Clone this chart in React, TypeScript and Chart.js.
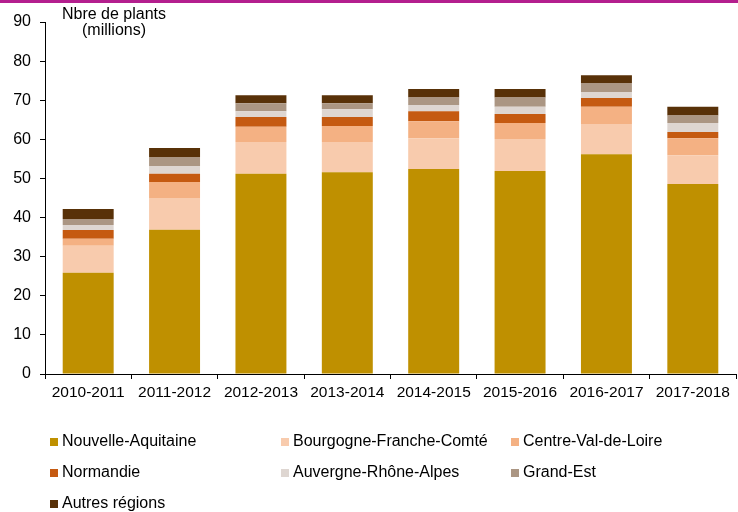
import React, { useEffect, useRef } from "react";
import { Chart, registerables } from "chart.js";

Chart.register(...registerables);

const campaigns = ["2010-2011", "2011-2012", "2012-2013", "2013-2014", "2014-2015", "2015-2016", "2016-2017", "2017-2018"];
const nouvelleAquitaine = [25.9, 36.9, 51.2, 51.6, 52.4, 51.9, 56.2, 48.6];
const bourgogneFC = [6.9, 8.1, 8.1, 7.7, 7.9, 8.2, 7.7, 7.3];
const centreVdL = [1.8, 4.1, 3.9, 4.1, 4.3, 4.1, 4.4, 4.4];
const normandie = [2.2, 2.1, 2.5, 2.3, 2.6, 2.3, 2.3, 1.6];
const auvergneRA = [1.3, 2.0, 1.5, 2.0, 1.6, 1.8, 1.5, 2.3];
const grandEst = [1.5, 2.3, 2.0, 1.5, 1.9, 2.4, 2.3, 1.9];
const autres = [2.6, 2.3, 2.1, 2.1, 2.2, 2.2, 2.0, 2.2];
const seriesNames = ["Nouvelle-Aquitaine", "Bourgogne-Franche-Comté", "Centre-Val-de-Loire", "Normandie", "Auvergne-Rhône-Alpes", "Grand-Est", "Autres régions"];
const seriesColors = ["#BF9000", "#F8CBAD", "#F4B183", "#C55A11", "#DED6D1", "#AB9683", "#583108"];
const yTitle = ["Nbre de plants", "(millions)"];

const FONT = "'Liberation Sans', Arial, sans-serif";

export default function App() {
  const ref = useRef<HTMLCanvasElement | null>(null);
  useEffect(() => {
    if (!ref.current) return;
    const values = [nouvelleAquitaine, bourgogneFC, centreVdL, normandie, auvergneRA, grandEst, autres];
    const extras = {
      id: "extras",
      afterDraw(chart: any) {
        const ctx = chart.ctx;
        ctx.save();
        ctx.fillStyle = "#000";
        ctx.font = `16px ${FONT}`;
        ctx.textAlign = "center";
        ctx.textBaseline = "middle";
        ctx.fillText(yTitle[0], 114, 15);
        ctx.fillText(yTitle[1], 114, 31);
        const cols = [50, 281, 511];
        const rows = [442, 473, 504];
        ctx.textAlign = "left";
        seriesNames.forEach((name, i) => {
          const x = cols[i % 3];
          const y = rows[Math.floor(i / 3)];
          ctx.fillStyle = seriesColors[i];
          ctx.fillRect(x, y - 4, 8, 8);
          ctx.fillStyle = "#000";
          ctx.fillText(name, x + 12, y);
        });
        ctx.restore();
      },
    };
    const chart = new Chart(ref.current, {
      type: "bar",
      data: {
        labels: campaigns,
        datasets: values.map((v, i) => ({
          label: seriesNames[i],
          data: v,
          backgroundColor: seriesColors[i],
          borderWidth: 0,
          barPercentage: 0.59,
          categoryPercentage: 1,
        })),
      },
      options: {
        animation: false,
        responsive: false,
        maintainAspectRatio: false,
        layout: { padding: { top: 22, right: 2, bottom: 98, left: 0 } },
        plugins: { legend: { display: false }, tooltip: { enabled: false } },
        scales: {
          x: {
            stacked: true,
            grid: { display: true, drawOnChartArea: false, drawTicks: true, tickLength: 5, color: "#000", offset: true },
            border: { display: true, color: "#000", width: 1 },
            ticks: { color: "#000", font: { size: 15.5, family: FONT }, padding: 4, maxRotation: 0 },
            afterFit: (s: any) => { s.height = 40; },
          },
          y: {
            stacked: true,
            min: 0,
            max: 90,
            grid: { display: true, drawOnChartArea: false, drawTicks: true, tickLength: 5, color: "#000" },
            border: { display: true, color: "#000", width: 1 },
            ticks: { stepSize: 10, color: "#000", font: { size: 16, family: FONT }, padding: 9 },
            afterFit: (s: any) => { s.width = 45; },
          },
        },
      },
      plugins: [extras],
    });
    return () => chart.destroy();
  }, []);
  return (
    <div style={{ position: "fixed", left: 0, top: 0, width: 738, height: 512, background: "#fff" }}>
      <div style={{ position: "absolute", left: 0, top: 0, width: 738, height: 3, background: "#B41F8E" }} />
      <canvas ref={ref} width={738} height={512} style={{ position: "absolute", left: 0, top: 0, width: 738, height: 512 }} />
    </div>
  );
}
